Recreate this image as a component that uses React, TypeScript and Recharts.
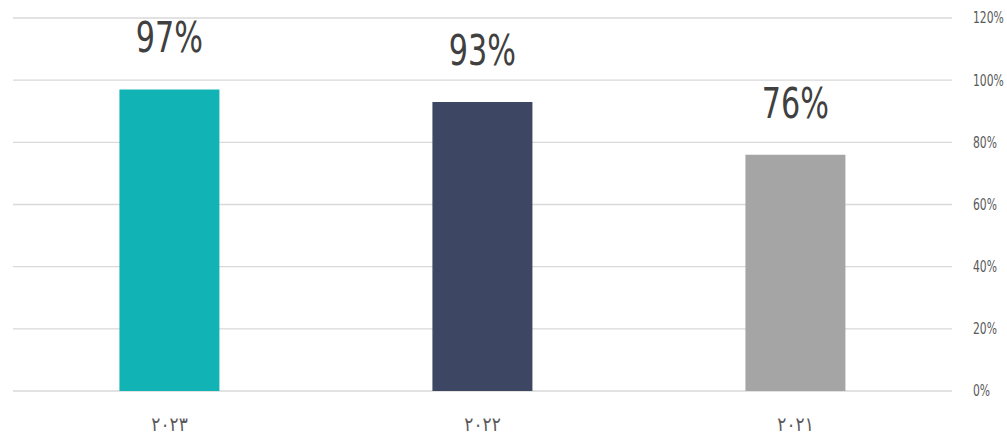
import React from 'react';
import { BarChart, Bar, XAxis, YAxis, CartesianGrid, LabelList, Cell } from 'recharts';

const categories = ['٢٠٢٣', '٢٠٢٢', '٢٠٢١'];
const values = [97, 93, 76];
const colors = ['#12B3B5', '#3D4663', '#A5A5A5'];
const yTicks = [0, 20, 40, 60, 80, 100, 120];

const data = categories.map((c, i) => ({ name: c, value: values[i] }));

const FONT = '"DejaVu Sans", sans-serif';
const SQUEEZE = 0.72;

const YTick = (props: any) => {
  const { x, y, payload } = props;
  return (
    <text
      transform={`translate(${x},${y}) scale(${SQUEEZE},1)`}
      x={0}
      y={0}
      dy="0.36em"
      textAnchor="start"
      fill="#595959"
      fontSize={15}
      fontFamily={FONT}
    >
      {`${payload.value}%`}
    </text>
  );
};

const XTick = (props: any) => {
  const { x, y, payload } = props;
  return (
    <text
      transform={`translate(${x},${y}) scale(0.85,1)`}
      x={0}
      y={0}
      dy="0.71em"
      textAnchor="middle"
      fill="#595959"
      fontSize={20}
      fontFamily={FONT}
    >
      {payload.value}
    </text>
  );
};

const ValueLabel = (props: any) => {
  const { x, y, width, value } = props;
  const cx = Number(x) + Number(width) / 2;
  const by = Number(y) - 37;
  return (
    <text
      transform={`translate(${cx},${by}) scale(${SQUEEZE},1)`}
      x={0}
      y={0}
      textAnchor="middle"
      fill="#404040"
      fontSize={42}
      fontFamily={FONT}
    >
      {`${value}%`}
    </text>
  );
};

export default function App() {
  return (
    <div style={{ position: 'absolute', left: 0, top: 0, width: 1007, height: 436, background: '#fff' }}>
      <BarChart
        width={1007}
        height={436}
        data={data}
        margin={{ top: 18, right: 0, left: 13, bottom: 15 }}
        barCategoryGap="34%"
      >
        <CartesianGrid vertical={false} stroke="#D9D9D9" strokeWidth={1.3} />
        <XAxis
          dataKey="name"
          axisLine={false}
          tickLine={false}
          height={30}
          tickMargin={20}
          tick={<XTick />}
        />
        <YAxis
          orientation="right"
          domain={[0, 120]}
          ticks={yTicks}
          width={55}
          axisLine={false}
          tickLine={false}
          tickMargin={15}
          tick={<YTick />}
        />
        <Bar dataKey="value" isAnimationActive={false}>
          {data.map((d, i) => (
            <Cell key={d.name} fill={colors[i]} />
          ))}
          <LabelList dataKey="value" content={<ValueLabel />} />
        </Bar>
      </BarChart>
    </div>
  );
}
